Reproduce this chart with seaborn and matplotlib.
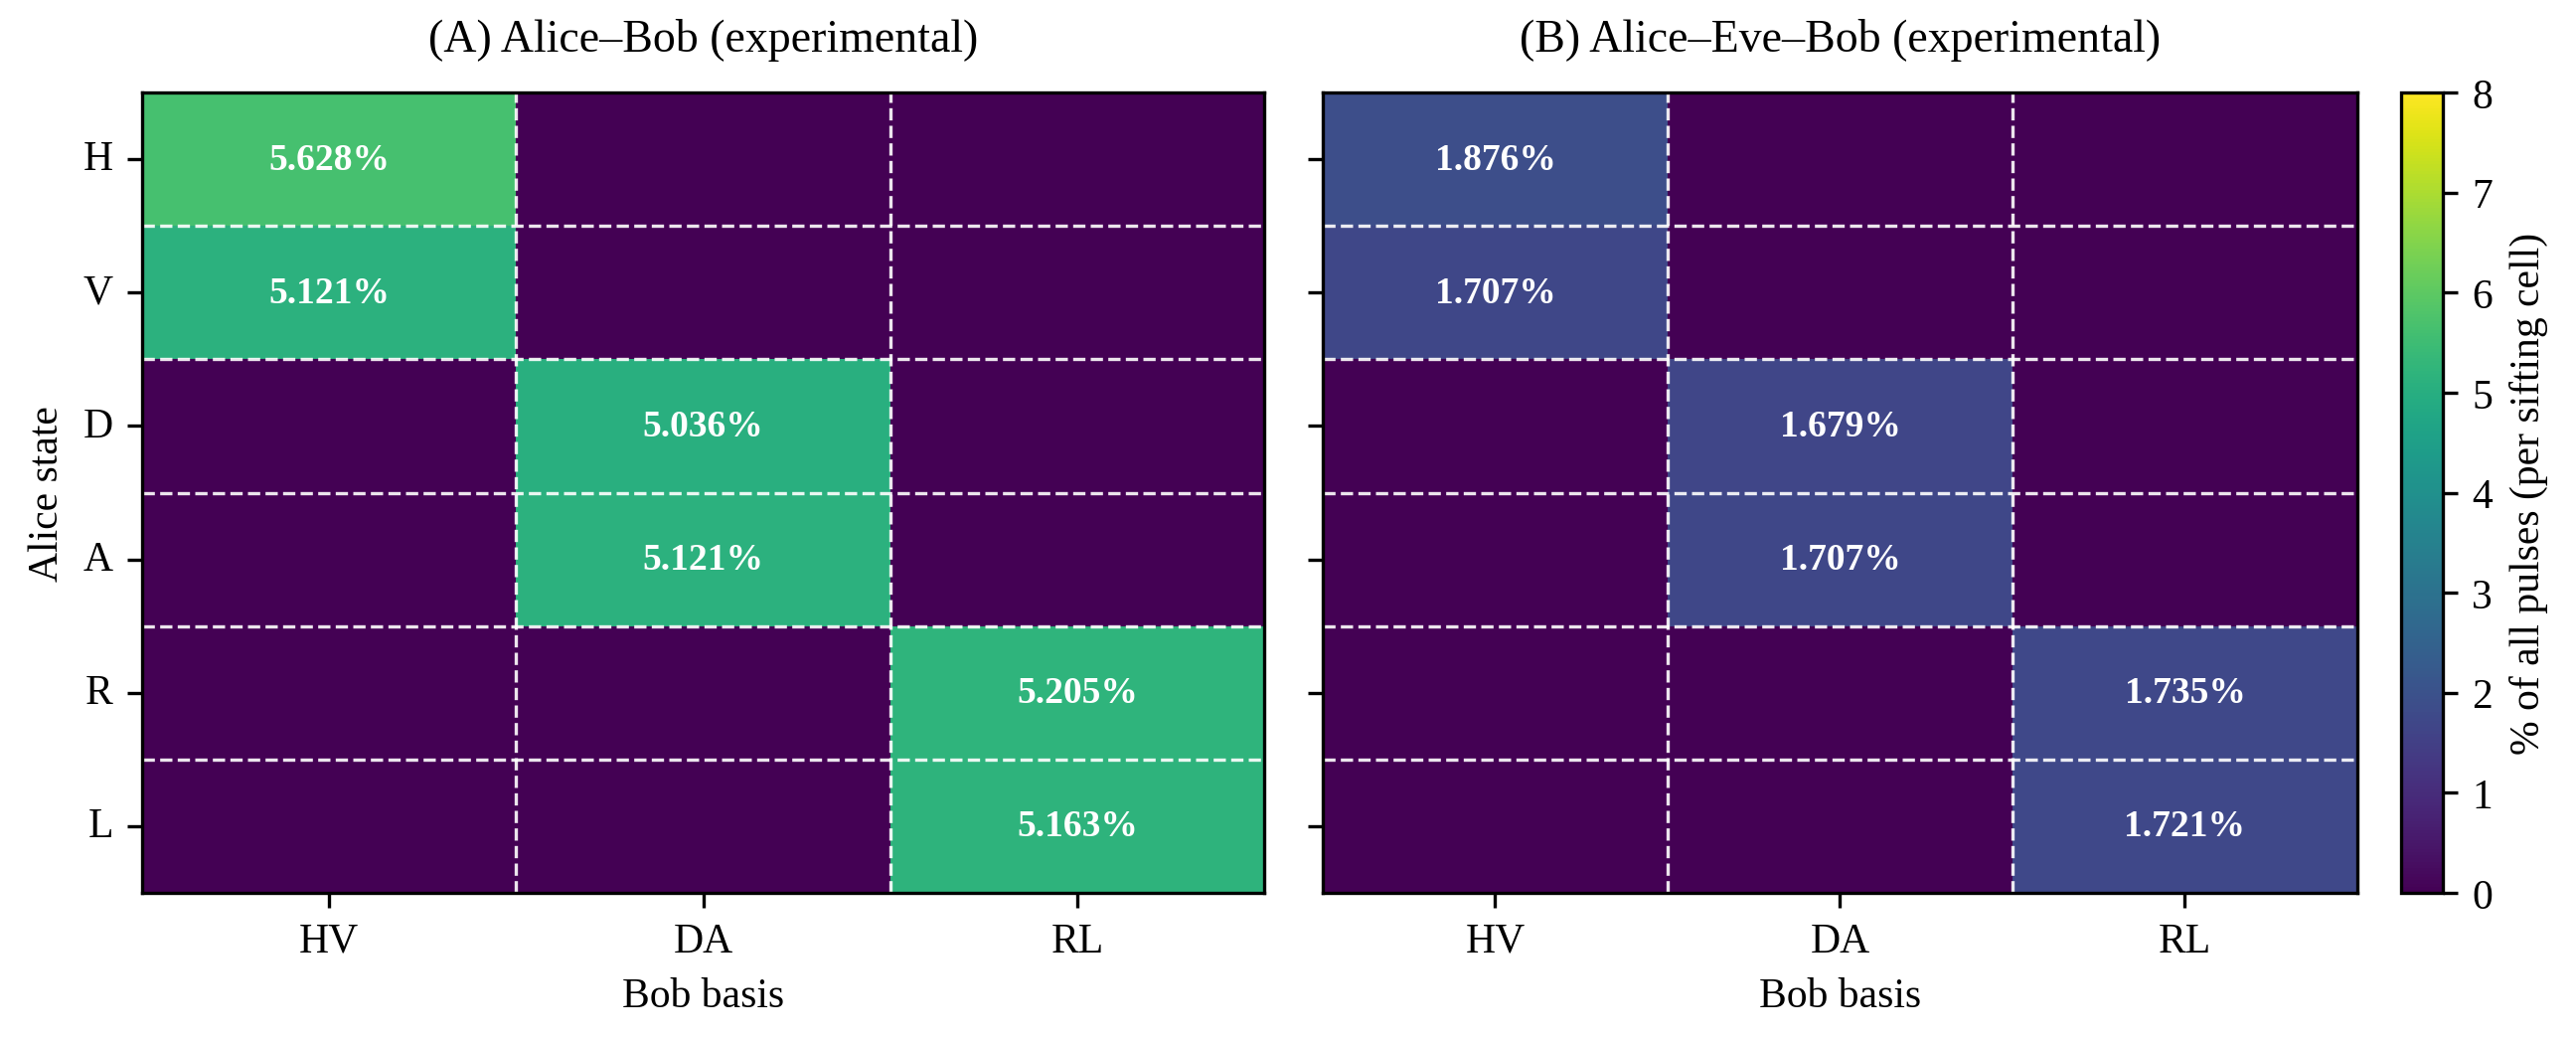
import numpy as np
import pandas as pd
import matplotlib
matplotlib.use("Agg")
import matplotlib.pyplot as plt
import seaborn as sns

plt.rcParams['font.family'] = ['Liberation Serif', 'DejaVu Serif']

# data (percent of all pulses)
alice_states = ["H", "V", "D", "A", "R", "L"]
bob_bases = ["HV", "DA", "RL"]
ab_diag = [5.628, 5.121, 5.036, 5.121, 5.205, 5.163]
aeb_diag = [1.876, 1.707, 1.679, 1.707, 1.735, 1.721]
basis_of_state = [0, 0, 1, 1, 2, 2]  # which Bob basis column is filled for each Alice state
titles = ["(A) Alice\u2013Bob (experimental)", "(B) Alice\u2013Eve\u2013Bob (experimental)"]

def make_table(vals):
    m = np.zeros((len(alice_states), len(bob_bases)))
    for i, v in enumerate(vals):
        m[i, basis_of_state[i]] = v
    return pd.DataFrame(m, index=alice_states, columns=bob_bases)

def make_annot(df):
    return df.map(lambda v: f"{v:.3f}%" if v > 0 else "")

fig = plt.figure(figsize=(8.64, 3.503), dpi=300)
ax1 = fig.add_axes([0.0552, 0.1446, 0.4356, 0.766])
ax2 = fig.add_axes([0.5135, 0.1446, 0.4016, 0.766])
cax = fig.add_axes([0.9321, 0.1446, 0.0162, 0.766])

for k, (ax, vals) in enumerate([(ax1, ab_diag), (ax2, aeb_diag)]):
    df = make_table(vals)
    sns.heatmap(df, ax=ax, cmap="viridis", vmin=0, vmax=8,
                annot=make_annot(df), fmt="",
                annot_kws={"color": "white", "fontweight": "bold", "fontsize": 9},
                cbar=(k == 1), cbar_ax=cax if k == 1 else None)
    # dashed cell boundaries
    for y in range(1, len(alice_states)):
        ax.axhline(y, color="white", ls="--", lw=0.8, alpha=0.9)
    for x in range(1, len(bob_bases)):
        ax.axvline(x, color="white", ls="--", lw=0.8, alpha=0.9)
    for s in ax.spines.values():
        s.set_visible(True)
        s.set_color("black")
        s.set_linewidth(0.8)
    ax.set_title(titles[k], fontsize=11, pad=10)
    ax.set_xlabel("Bob basis", fontsize=10)
    ax.tick_params(labelsize=10, length=3.5, width=0.8)
    ax.set_xticklabels(bob_bases, rotation=0)
    if k == 0:
        ax.set_ylabel("Alice state", fontsize=10)
        ax.set_yticklabels(alice_states, rotation=0)
    else:
        ax.set_ylabel("")
        ax.set_yticklabels([])

cb = ax2.collections[0].colorbar
cb.set_ticks(range(0, 9))
cb.set_label("% of all pulses (per sifting cell)", fontsize=10, family=['Liberation Serif', 'DejaVu Serif'])
cb.outline.set_visible(True)
cb.outline.set_edgecolor("black")
cb.outline.set_linewidth(0.8)
cax.tick_params(labelsize=10, length=3.5, width=0.8)
for t in cax.get_yticklabels():
    t.set_family(['Liberation Serif', 'DejaVu Serif'])

fig.savefig("out.png", dpi=300)
